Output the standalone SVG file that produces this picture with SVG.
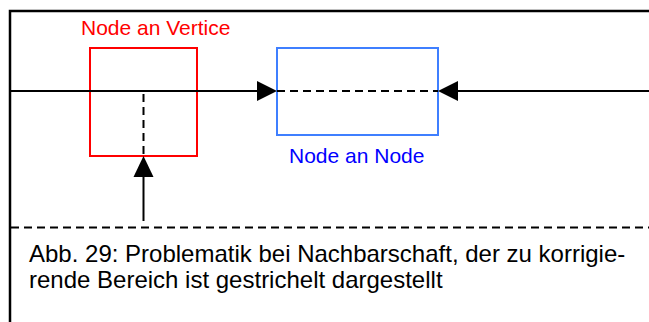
<svg xmlns="http://www.w3.org/2000/svg" width="649" height="322" viewBox="0 0 649 322">
<style>
.frame{fill:none;stroke:#000;stroke-width:2.5}
.line{fill:none;stroke:#000;stroke-width:2}
.dash{fill:none;stroke:#000;stroke-width:2;stroke-dasharray:8,5}
.head{fill:#000;stroke:none}
text{font-family:"Liberation Sans",Arial,sans-serif}
.lbl{font-size:21px}
.cap{font-size:24px;fill:#000}
</style>
<rect width="649" height="322" fill="#fff"/>
<g id="frame">
<path class="frame" d="M10,322 V11 H649"/>
</g>
<g id="node-vertice">
<rect x="90" y="48" width="107" height="108" fill="none" stroke="#ff0000" stroke-width="2"/>
<text class="lbl" x="81" y="34.5" fill="#ff0000">Node an Vertice</text>
</g>
<g id="node-node">
<rect x="277" y="48" width="161" height="87" fill="none" stroke="#3f7fff" stroke-width="2"/>
<text class="lbl" x="289" y="163" fill="#0000ff">Node an Node</text>
</g>
<g id="connectors">
<path class="line" d="M10,91 H258"/>
<polygon class="head" points="277,91 257,81 257,101"/>
<path class="dash" d="M277,91 H438"/>
<path class="line" d="M457,91 H649"/>
<polygon class="head" points="438,91 458,81 458,101"/>
<path class="dash" d="M143.5,94 V156"/>
<polygon class="head" points="143.5,156 133.5,177 153.5,177"/>
<path class="line" d="M143.5,176 V221"/>
<path class="dash" d="M11,227.5 H649"/>
</g>
<g id="caption">
<text class="cap" x="29" y="262">Abb. 29: Problematik bei Nachbarschaft, der zu korrigie-</text>
<text class="cap" x="29" y="288">rende Bereich ist gestrichelt dargestellt</text>
</g>
</svg>
